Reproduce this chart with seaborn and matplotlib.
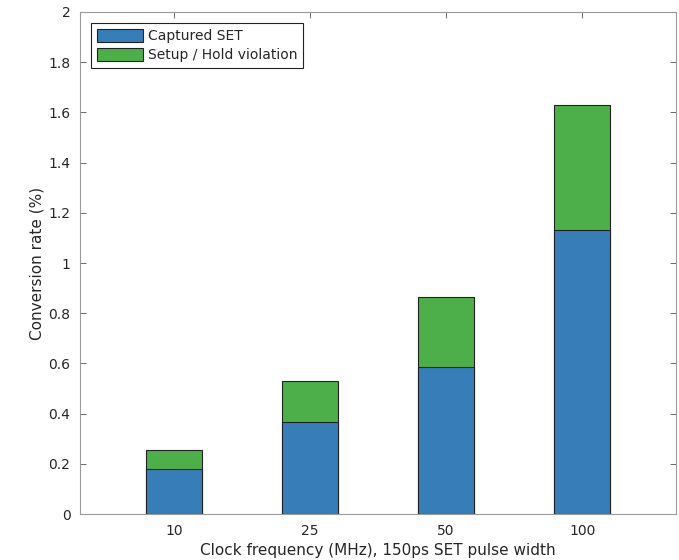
import matplotlib
matplotlib.use("Agg")
import matplotlib.pyplot as plt
import seaborn as sns
import pandas as pd
from matplotlib.patches import Patch
from matplotlib.ticker import FuncFormatter, MultipleLocator

categories = ["10", "25", "50", "100"]
captured_set = [0.179, 0.367, 0.586, 1.131]
setup_hold = [0.076, 0.163, 0.279, 0.498]

blue = "#377EB8"
green = "#4DAF4A"

df = pd.DataFrame({"freq": categories, "captured": captured_set, "violation": setup_hold})
df["total"] = df["captured"] + df["violation"]

sns.set_style("white")
plt.rcParams["font.family"] = ["DejaVu Sans"]

fig = plt.figure(figsize=(6.79, 5.6), dpi=100)
ax = fig.add_axes([0.118, 0.0821, 0.8776, 0.8965])

sns.barplot(data=df, x="freq", y="total", color=green, width=0.41, saturation=1,
            edgecolor="#222222", linewidth=0.8, ax=ax)
sns.barplot(data=df, x="freq", y="captured", color=blue, width=0.41, saturation=1,
            edgecolor="#222222", linewidth=0.8, ax=ax)

ax.set_xlim(-0.69, 3.69)
ax.set_ylim(0, 2)
ax.yaxis.set_major_locator(MultipleLocator(0.2))
ax.yaxis.set_major_formatter(FuncFormatter(lambda v, p: f"{v:.1f}".rstrip("0").rstrip(".") if v else "0"))

for s in ax.spines.values():
    s.set_color("#9a9a9a")
    s.set_linewidth(0.8)
ax.tick_params(direction="in", length=4, width=0.6, color="#555555", labelsize=10,
               labelcolor="#262626", top=True, right=True, left=True, bottom=True, pad=7)

ax.set_xlabel("Clock frequency (MHz), 150ps SET pulse width", fontsize=11, color="#262626", labelpad=4)
ax.set_ylabel("Conversion rate (%)", fontsize=11, color="#262626", labelpad=3)

handles = [Patch(facecolor=blue, edgecolor="#222222", linewidth=0.8, label="Captured SET"),
           Patch(facecolor=green, edgecolor="#222222", linewidth=0.8, label="Setup / Hold violation")]
leg = ax.legend(handles=handles, loc="upper left", fontsize=10, frameon=True, fancybox=False,
                edgecolor="#222222", framealpha=1, borderaxespad=0.8, handlelength=3.3,
                handleheight=1.1, handletextpad=0.4, labelspacing=0.35, borderpad=0.4)
leg.get_frame().set_linewidth(0.8)
for t in leg.get_texts():
    t.set_color("#262626")

fig.savefig("out.png", dpi=100)
